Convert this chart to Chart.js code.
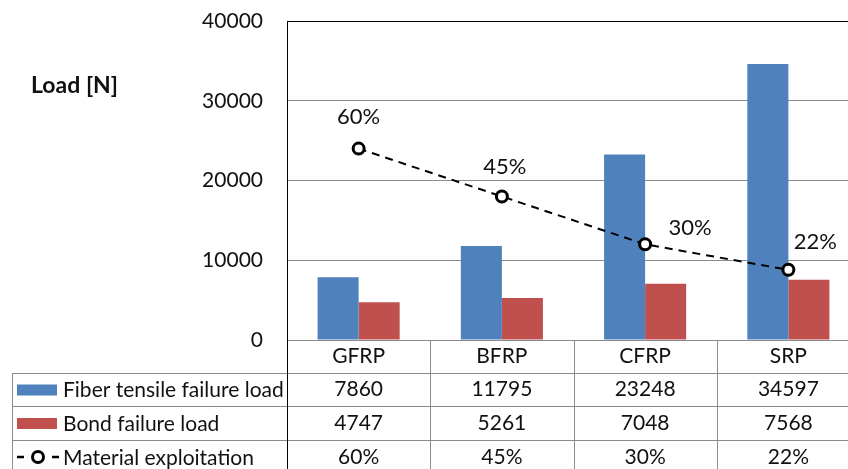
<!DOCTYPE html>
<html>
<head>
<meta charset="utf-8">
<script src="https://cdn.jsdelivr.net/npm/chart.js@4.4.1/dist/chart.umd.min.js"></script>
<style>
  html, body { margin: 0; padding: 0; background: #fff; overflow: hidden; }
  #wrap { position: relative; width: 880px; height: 469px; }
</style>
</head>
<body>
<div id="wrap"><canvas id="chart"></canvas></div>
<script>
var categories = ['GFRP', 'BFRP', 'CFRP', 'SRP'];
var fiberLoad = [7860, 11795, 23248, 34597];
var bondLoad = [4747, 5261, 7048, 7568];
var exploitation = [60, 45, 30, 22];
var seriesNames = ['Fiber tensile failure load', 'Bond failure load', 'Material exploitation'];
var loadTicks = [0, 10000, 20000, 30000, 40000];

var FONT = 'Lato, sans-serif';
var TEXT = '#111';
var GRID = '#8c8c8c';
var BLUE = '#4F81BD';
var RED = '#C0504D';

// offset of each percentage label from its marker
var labelShift = [[0, -32], [3, -30], [45, -16], [27, -28]];
// horizontal rules of the data table under the plot
var tableRows = [340, 373, 406, 440, 474];
var tableLeft = 12;

var percentLabels = {
    id: 'percentLabels',
    afterDatasetsDraw: function(chart) {
        var ctx = chart.ctx;
        var meta = chart.getDatasetMeta(2);
        ctx.save();
        ctx.font = '22px ' + FONT;
        ctx.fillStyle = TEXT;
        ctx.textAlign = 'center';
        ctx.textBaseline = 'middle';
        meta.data.forEach(function(pt, i) {
            ctx.fillText(exploitation[i] + '%', pt.x + labelShift[i][0], pt.y + labelShift[i][1]);
        });
        ctx.restore();
    }
};

var dataTable = {
    id: 'dataTable',
    afterDraw: function(chart) {
        var ctx = chart.ctx;
        var xs = chart.scales.x;
        var area = chart.chartArea;
        var colW = xs.width / categories.length;
        var bottom = tableRows[tableRows.length - 1];

        ctx.save();
        ctx.strokeStyle = GRID;
        ctx.lineWidth = 1;
        ctx.beginPath();
        // header rule spans only the value columns
        ctx.moveTo(area.left, tableRows[0] + 0.5);
        ctx.lineTo(area.right, tableRows[0] + 0.5);
        for (var r = 1; r < tableRows.length; r++) {
            ctx.moveTo(tableLeft, tableRows[r] + 0.5);
            ctx.lineTo(area.right, tableRows[r] + 0.5);
        }
        for (var c = 1; c <= categories.length; c++) {
            var vx = Math.round(xs.left + c * colW) + 0.5;
            ctx.moveTo(vx, tableRows[0]);
            ctx.lineTo(vx, bottom);
        }
        ctx.moveTo(tableLeft + 0.5, tableRows[1]);
        ctx.lineTo(tableLeft + 0.5, bottom);
        ctx.stroke();

        ctx.strokeStyle = '#000';
        ctx.beginPath();
        ctx.moveTo(Math.round(area.left) + 0.5, tableRows[0]);
        ctx.lineTo(Math.round(area.left) + 0.5, bottom);
        ctx.stroke();

        ctx.font = '21px ' + FONT;
        ctx.fillStyle = TEXT;
        ctx.textBaseline = 'middle';
        ctx.textAlign = 'center';
        var rowsData = [
            categories,
            fiberLoad.map(String),
            bondLoad.map(String),
            exploitation.map(function(v) { return v + '%'; })
        ];
        rowsData.forEach(function(row, r) {
            var cy = (tableRows[r] + tableRows[r + 1]) / 2;
            row.forEach(function(txt, i) {
                ctx.fillText(txt, xs.getPixelForValue(i), cy);
            });
        });

        // series keys and names in the left column
        ctx.textAlign = 'left';
        for (var s = 0; s < 3; s++) {
            var y = (tableRows[s + 1] + tableRows[s + 2]) / 2;
            if (s < 2) {
                ctx.fillStyle = s === 0 ? BLUE : RED;
                ctx.fillRect(17, y - 5, 40, 11);
            } else {
                ctx.strokeStyle = '#000';
                ctx.lineWidth = 2.5;
                ctx.beginPath();
                ctx.moveTo(17, y); ctx.lineTo(24, y);
                ctx.moveTo(52, y); ctx.lineTo(59, y);
                ctx.stroke();
                ctx.lineWidth = 3;
                ctx.beginPath();
                ctx.arc(38, y, 5.5, 0, Math.PI * 2);
                ctx.fillStyle = '#fff';
                ctx.fill();
                ctx.stroke();
            }
            ctx.fillStyle = TEXT;
            ctx.fillText(seriesNames[s], 63, y + 1);
        }

        // axis title
        ctx.font = 'bold 23px ' + FONT;
        ctx.fillText('Load [N]', 31, 86);
        ctx.restore();
    }
};

new Chart(document.getElementById('chart'), {
    type: 'bar',
    data: {
        labels: categories,
        datasets: [{
            label: seriesNames[0],
            data: fiberLoad,
            backgroundColor: BLUE,
            order: 2
        }, {
            label: seriesNames[1],
            data: bondLoad,
            backgroundColor: RED,
            order: 2
        }, {
            type: 'line',
            label: seriesNames[2],
            data: exploitation,
            yAxisID: 'y2',
            borderColor: '#000',
            borderWidth: 2,
            borderDash: [8, 6],
            pointRadius: 5.5,
            pointBorderWidth: 3,
            pointBackgroundColor: '#fff',
            pointBorderColor: '#000',
            tension: 0,
            order: 0
        }]
    },
    plugins: [percentLabels, dataTable],
    options: {
        responsive: true,
        maintainAspectRatio: false,
        animation: false,
        devicePixelRatio: 1,
        layout: { padding: { left: 0, top: 21, right: 20, bottom: 129 } },
        datasets: {
            bar: { categoryPercentage: 0.573, barPercentage: 1.0 }
        },
        plugins: {
            legend: { display: false },
            tooltip: { enabled: false }
        },
        scales: {
            x: { display: false },
            y: {
                min: 0,
                max: 40000,
                afterBuildTicks: function(scale) {
                    scale.ticks = loadTicks.map(function(v) { return { value: v }; });
                },
                afterFit: function(scale) {
                    // fixed axis strip; tick padding should not push the plot down
                    scale.width = 287;
                    scale.paddingTop = 0;
                    scale.paddingBottom = 0;
                },
                border: { display: true, color: '#000', width: 1 },
                grid: {
                    drawTicks: false,
                    color: function(c) { return c.tick && c.tick.value === 40000 ? '#000' : GRID; }
                },
                ticks: {
                    padding: 24,
                    color: TEXT,
                    font: { family: FONT, size: 21 },
                    callback: function(v) { return String(v); }
                }
            },
            y2: { display: false, min: 0, max: 100 }
        }
    }
});
</script>
</body>
</html>
